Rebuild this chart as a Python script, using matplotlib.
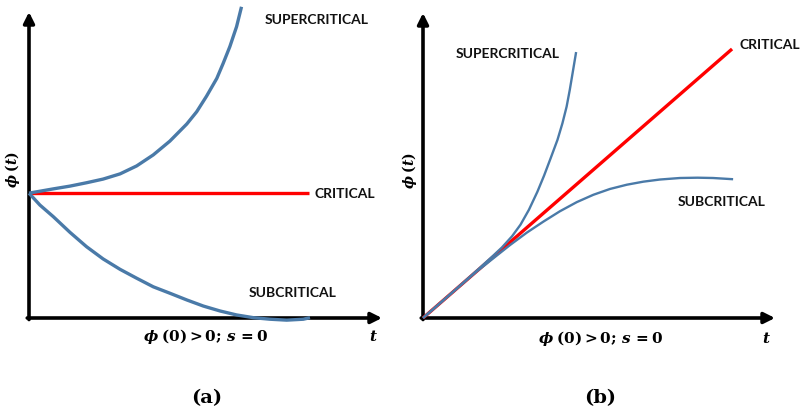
import matplotlib
matplotlib.use("Agg")
import matplotlib.pyplot as plt

plt.rcParams["mathtext.fontset"] = "dejavuserif"

BLUE = "#4a7aa8"
RED = "#ff0000"
LABEL_FONT = "Lato"

# ---- Panel (a): constant-flux behaviour ----
a_crit_t = [0.0, 7.93]
a_crit_phi = [4.08, 4.08]

a_super_t = [0.0, 0.69, 1.16, 1.63, 2.10, 2.58, 3.05, 3.52, 3.99, 4.47,
             4.75, 5.03, 5.32, 5.50, 5.69, 5.88, 6.02]
a_super_phi = [4.08, 4.22, 4.31, 4.42, 4.54, 4.71, 4.97, 5.33, 5.78, 6.34,
               6.74, 7.25, 7.83, 8.32, 8.87, 9.52, 10.17]

a_sub_t = [0.0, 0.31, 0.69, 1.16, 1.63, 2.10, 2.58, 3.05, 3.52, 3.99,
           4.47, 4.94, 5.41, 5.88, 6.36, 6.83, 7.30, 7.77, 7.96]
a_sub_phi = [4.08, 3.69, 3.31, 2.80, 2.33, 1.93, 1.59, 1.30, 1.02, 0.81,
             0.59, 0.39, 0.23, 0.10, 0.01, -0.04, -0.07, -0.04, 0.01]

# ---- Panel (b): linearly rising behaviour ----
b_crit_t = [0.0, 8.78]
b_crit_phi = [0.0, 8.82]

b_super_t = [0.0, 0.90, 1.60, 2.00, 2.24, 2.53, 2.77, 3.01, 3.25, 3.44,
             3.63, 3.82, 3.96, 4.08, 4.17, 4.25, 4.35]
b_super_phi = [0.0, 0.91, 1.63, 2.05, 2.31, 2.68, 3.06, 3.55, 4.14, 4.67,
               5.25, 5.84, 6.38, 6.93, 7.48, 8.03, 8.72]

b_sub_t = [0.0, 1.00, 1.50, 2.00, 2.47, 2.95, 3.42, 3.89, 4.37, 4.84,
           5.31, 5.79, 6.26, 6.73, 7.30, 7.80, 8.24, 8.81]
b_sub_phi = [0.0, 1.00, 1.50, 1.96, 2.39, 2.80, 3.16, 3.50, 3.80, 4.04,
             4.23, 4.37, 4.47, 4.54, 4.59, 4.60, 4.59, 4.55]

condition = r"$\mathbfit{\phi}\;\mathbf{(0) > 0;}\,\mathbfit{s}\,\mathbf{= 0}$"
ylabel = r"$\mathbfit{\phi}\;\mathbf{(}\mathbfit{t}\mathbf{)}$"
tlabel = r"$\mathbfit{t}$"

W, H = 803, 411
fig = plt.figure(figsize=(W / 100, H / 100), dpi=100)


def make_axes(x0, x1, y0, y1):
    ax = fig.add_axes([x0 / W, 1 - y0 / H, (x1 - x0) / W, (y0 - y1) / H])
    ax.set_xlim(0, 10)
    ax.set_ylim(0, 10)
    ax.axis("off")
    arrow = dict(arrowstyle="-|>", lw=2.6, color="black", mutation_scale=16,
                 shrinkA=0, shrinkB=0)
    ax.annotate("", xy=(10, 0), xytext=(-0.05, 0), arrowprops=arrow,
                annotation_clip=False)
    ax.annotate("", xy=(0, 10), xytext=(0, -0.05), arrowprops=arrow,
                annotation_clip=False)
    return ax


def curve(ax, t, phi, color, lw):
    ax.plot(t, phi, color=color, lw=lw, solid_joinstyle="round",
            solid_capstyle="butt", clip_on=False, zorder=3)


def tag(ax, x, y, s, ha="center"):
    ax.text(x, y, s, ha=ha, va="center", fontsize=10, fontweight="bold",
            family=LABEL_FONT, color="#111111")


# Panel (a)
ax_a = make_axes(29, 382, 318, 12)
curve(ax_a, a_crit_t, a_crit_phi, RED, 2.4)
curve(ax_a, a_super_t, a_super_phi, BLUE, 2.4)
curve(ax_a, a_sub_t, a_sub_phi, BLUE, 2.4)
tag(ax_a, 8.16, 9.74, "SUPERCRITICAL")
tag(ax_a, 8.10, 4.05, "CRITICAL", ha="left")
tag(ax_a, 7.48, 0.82, "SUBCRITICAL")
ax_a.text(5.01, -0.62, condition, ha="center", va="center", fontsize=11)
ax_a.text(9.77, -0.62, tlabel, ha="center", va="center", fontsize=11)
ax_a.text(-0.48, 4.84, ylabel, ha="center", va="center", fontsize=10,
          rotation=90)

# Panel (b)
ax_b = make_axes(423, 775, 318, 13)
curve(ax_b, b_crit_t, b_crit_phi, RED, 2.4)
curve(ax_b, b_super_t, b_super_phi, BLUE, 1.7)
curve(ax_b, b_sub_t, b_sub_phi, BLUE, 1.7)
tag(ax_b, 2.41, 8.66, "SUPERCRITICAL")
tag(ax_b, 9.0, 8.95, "CRITICAL", ha="left")
tag(ax_b, 8.49, 3.80, "SUBCRITICAL")
ax_b.text(5.03, -0.66, condition, ha="center", va="center", fontsize=11)
ax_b.text(9.77, -0.66, tlabel, ha="center", va="center", fontsize=11)
ax_b.text(-0.37, 4.85, ylabel, ha="center", va="center", fontsize=10,
          rotation=90)

# Panel captions
for px, s in [(207, "(a)"), (600, "(b)")]:
    fig.text(px / W, 1 - 398 / H, s, ha="center", va="center", fontsize=14,
             fontweight="bold", family="DejaVu Serif")

fig.savefig("out.png", dpi=100, facecolor="white")
